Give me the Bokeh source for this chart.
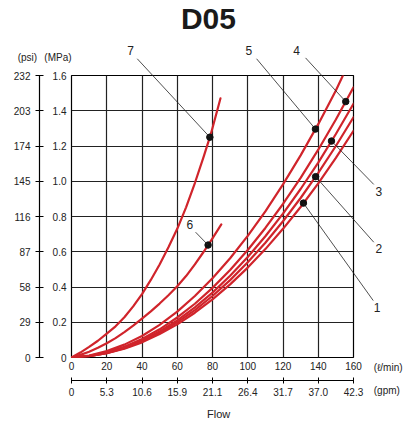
from bokeh.plotting import figure
from bokeh.models import LinearAxis, FixedTicker, Grid
from bokeh.core.properties import value
from bokeh.embed import file_html
from bokeh.resources import INLINE

# ---- data ----
flow_ticks = [0, 20, 40, 60, 80, 100, 120, 140, 160]
gpm_labels = ["0", "5.3", "10.6", "15.9", "21.1", "26.4", "31.7", "37.0", "42.3"]
mpa_ticks = [0, 0.2, 0.4, 0.6, 0.8, 1.0, 1.2, 1.4, 1.6]
mpa_labels = ["0", "0.2", "0.4", "0.6", "0.8", "1.0", "1.2", "1.4", "1.6"]
psi_labels = ["0", "29", "58", "87", "116", "145", "174", "203", "232"]

x_full = [0, 10, 20, 30, 40, 50, 60, 70, 80, 90, 100, 110, 120, 130, 140, 150, 160]
c1_y = [0, 0.007, 0.024, 0.05, 0.086, 0.133, 0.188, 0.254, 0.33, 0.415, 0.51, 0.615, 0.73, 0.854, 0.988, 1.133, 1.286]
c2_y = [0, 0.007, 0.025, 0.053, 0.091, 0.14, 0.199, 0.269, 0.349, 0.439, 0.54, 0.651, 0.773, 0.905, 1.047, 1.2, 1.363]
c3_y = [0, 0.008, 0.026, 0.056, 0.096, 0.148, 0.21, 0.284, 0.368, 0.464, 0.57, 0.688, 0.816, 0.956, 1.106, 1.268, 1.44]
c4_y = [0, 0.009, 0.029, 0.061, 0.105, 0.16, 0.227, 0.305, 0.395, 0.497, 0.61, 0.735, 0.871, 1.019, 1.179, 1.35, 1.533]
c5_x = [0, 10, 20, 30, 40, 50, 60, 70, 80, 90, 100, 110, 120, 130, 140, 150, 154]
c5_y = [0, 0.011, 0.036, 0.073, 0.122, 0.185, 0.26, 0.349, 0.45, 0.563, 0.69, 0.829, 0.982, 1.147, 1.324, 1.515, 1.6]
c6_x = [0, 5, 10, 15, 20, 25, 30, 35, 40, 45, 50, 55, 60, 65, 70, 75, 77.5, 80, 85]
c6_y = [0, 0.015, 0.033, 0.055, 0.081, 0.11, 0.144, 0.181, 0.221, 0.262, 0.306, 0.353, 0.404, 0.462, 0.528, 0.6, 0.638, 0.676, 0.755]
c7_x = [0, 5, 10, 15, 20, 25, 30, 35, 40, 45, 50, 55, 60, 65, 70, 75, 78.5, 80, 84.5]
c7_y = [0, 0.028, 0.06, 0.095, 0.135, 0.177, 0.228, 0.29, 0.36, 0.44, 0.528, 0.625, 0.73, 0.852, 0.99, 1.14, 1.25, 1.302, 1.47]

curve_ids = ["1", "2", "3", "4", "5", "6", "7"]
dot_x = [131.6, 138.5, 147.5, 155.6, 138.4, 77.5, 78.5]
dot_y = [0.876, 1.026, 1.228, 1.452, 1.296, 0.638, 1.25]

title_text = "D05"

# ---- styling / positions ----
RED = "#d0242b"
FONT = "Liberation Sans"
TICK_FS = "10px"
INK = "#222222"

p = figure(width=405, height=420, x_range=(0, 160), y_range=(0, 1.6),
           x_axis_type=None, y_axis_type=None,
           output_backend="svg", toolbar_location=None,
           min_border_left=71, min_border_right=52, min_border_top=75, min_border_bottom=63)
p.outline_line_color = "black"
p.outline_line_width = 1.2
p.background_fill_color = "white"
p.border_fill_color = "white"

# grids
p.add_layout(Grid(dimension=0, ticker=FixedTicker(ticks=flow_ticks), grid_line_color=INK, grid_line_width=1.2))
p.add_layout(Grid(dimension=1, ticker=FixedTicker(ticks=mpa_ticks), grid_line_color=INK, grid_line_width=1.2))

def style_axis(ax, line, tin, tout, standoff):
    ax.axis_line_color = "black" if line else None
    ax.axis_line_width = 1.2
    ax.major_tick_line_color = "black" if line else None
    ax.minor_tick_line_color = None
    ax.major_tick_in = tin
    ax.major_tick_out = tout
    ax.major_label_standoff = standoff
    ax.major_label_text_font = FONT
    ax.major_label_text_font_size = TICK_FS
    ax.major_label_text_color = INK

# bottom axes: l/min next to the frame, gpm below it
ax_l = LinearAxis(ticker=FixedTicker(ticks=flow_ticks),
                  major_label_overrides={t: str(t) for t in flow_ticks})
style_axis(ax_l, False, 0, 0, 4)
ax_l.axis_label = " "
ax_l.axis_label_text_font_size = "2px"
ax_l.axis_label_standoff = 3
p.add_layout(ax_l, "below")

ax_g = LinearAxis(ticker=FixedTicker(ticks=flow_ticks),
                  major_label_overrides={t: g for t, g in zip(flow_ticks, gpm_labels)})
style_axis(ax_g, True, 3, 3, 4)
p.add_layout(ax_g, "below")

# left axes: MPa next to the frame, psi outside
ax_m = LinearAxis(ticker=FixedTicker(ticks=mpa_ticks),
                  major_label_overrides={t: s for t, s in zip(mpa_ticks, mpa_labels)})
style_axis(ax_m, False, 0, 0, 5)
ax_m.axis_label = " "
ax_m.axis_label_text_font_size = "2px"
ax_m.axis_label_standoff = 5
p.add_layout(ax_m, "left")

ax_p = LinearAxis(ticker=FixedTicker(ticks=mpa_ticks),
                  major_label_overrides={t: s for t, s in zip(mpa_ticks, psi_labels)})
style_axis(ax_p, True, 4, 4, 5)
p.add_layout(ax_p, "left")

# curves
for xs, ys in [(x_full, c1_y), (x_full, c2_y), (x_full, c3_y), (x_full, c4_y),
               (c5_x, c5_y), (c6_x, c6_y), (c7_x, c7_y)]:
    p.line(xs, ys, line_color=RED, line_width=2.2, line_join="round", line_cap="round")

# leader lines and numbers (positions in data units, partly outside the frame)
lead_x = [171.2, 171.5, 171.5, 132.8, 105.0, 70.4, 37.3]
lead_y = [0.323, 0.654, 0.982, 1.700, 1.695, 0.711, 1.695]
num_x = [173.4, 174.4, 174.4, 127.7, 100.6, 67.1, 33.5]
num_y = [0.282, 0.617, 0.944, 1.742, 1.742, 0.753, 1.742]

p.segment(x0=lead_x, y0=lead_y, x1=dot_x, y1=dot_y, line_color=INK, line_width=0.8, level="overlay")
p.scatter(dot_x, dot_y, size=6.5, fill_color="#111111", line_color="#111111")
p.text(x=num_x, y=num_y, text=curve_ids, text_align="center", text_baseline="middle",
       text_font=value(FONT), text_font_size="12px", text_color=INK, level="overlay")

# title, unit labels and axis title
p.text(x=[77.7], y=[1.925], text=[title_text], text_align="center", text_baseline="middle",
       text_font=value(FONT), text_font_style="bold", text_font_size="30px",
       text_color="#1a1a1a", level="overlay")
p.text(x=[-25.0, -7.7], y=[1.704, 1.704], text=["(psi)", "(MPa)"], text_align="center",
       text_baseline="middle", text_font=value(FONT), text_font_size=TICK_FS, text_color=INK, level="overlay")
p.text(x=[171.5, 171.5], y=[-0.055, -0.187], text=["(\u2113/min)", "(gpm)"], text_align="left",
       text_baseline="middle", text_font=value(FONT), text_font_size=TICK_FS, text_color=INK, level="overlay")
p.text(x=[83.5], y=[-0.323], text=["Flow"], text_align="center", text_baseline="middle",
       text_font=value(FONT), text_font_size="11px", text_color=INK, level="overlay")

open("out.html", "w").write(file_html(p, INLINE))
